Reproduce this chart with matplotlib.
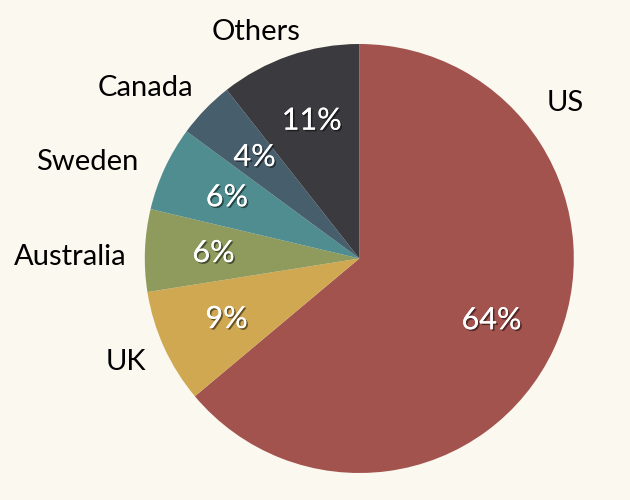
import matplotlib
matplotlib.use("Agg")
import matplotlib.pyplot as plt
import matplotlib.patheffects as pe

countries = ["US", "UK", "Australia", "Sweden", "Canada", "Others"]
shares = [63.9, 8.6, 6.2, 6.4, 4.3, 10.6]
pct_labels = ["64%", "9%", "6%", "6%", "4%", "11%"]
colors = ["#a3534e", "#d0a852", "#8f9a5d", "#4f8d91", "#475e6c", "#3b3a3f"]

bg = "#fbf8ef"
W, H = 630, 500
fig = plt.figure(figsize=(W / 100, H / 100), dpi=100, facecolor=bg)
cx, cy, R = 359.3, 258.5, 214.5
ax = fig.add_axes([(cx - R) / W, (H - cy - R) / H, 2 * R / W, 2 * R / H])
ax.set_facecolor(bg)
ax.patch.set_alpha(0)

wedges, texts, autotexts = ax.pie(
    shares, colors=colors, startangle=90, counterclock=False,
    labels=countries, labeldistance=1.13,
    autopct=lambda p: "", pctdistance=0.68,
    wedgeprops=dict(linewidth=0), radius=1.0,
    textprops=dict(fontfamily="Lato", fontsize=21, color="black"),
)
ax.set_xlim(-1, 1)
ax.set_ylim(-1, 1)
ax.set_aspect("equal")

shadow = [pe.withSimplePatchShadow(offset=(1.2, -1.2), shadow_rgbFace="black", alpha=0.5), pe.Normal()]
for at, lab in zip(autotexts, pct_labels):
    at.set_text(lab)
    at.set_fontfamily("Lato")
    at.set_fontsize(22)
    at.set_color("white")
    at.set_path_effects(shadow)

# name label placement
label_pos = {
    0: ((0.959, 0.725), "center"),
    1: ((-0.995, -0.483), "right"),
    2: ((-1.083, 0.007), "right"),
    3: ((-1.032, 0.45), "right"),
    4: ((-0.776, 0.795), "right"),
    5: ((-0.482, 1.056), "center"),
}
for i, t in enumerate(texts):
    pos, ha = label_pos[i]
    t.set_position(pos)
    t.set_ha(ha)
    t.set_va("center")

fig.savefig("out.png", dpi=100, facecolor=bg)
